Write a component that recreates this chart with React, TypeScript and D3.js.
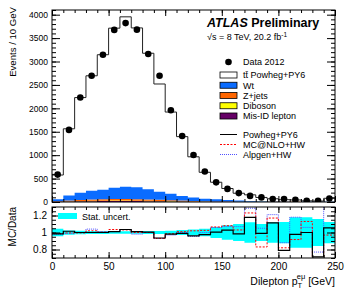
import * as d3 from "d3";
import React, { useEffect, useRef } from "react";

// bins of 10 GeV, lower edges
const binLow = [0, 10, 20, 30, 40, 50, 60, 70, 80, 90, 100, 110, 120, 130, 140, 150, 160, 170, 180, 190, 200, 210, 220, 230, 240];
const binWidth = 10;

const dataCounts = [585, 1540, 2230, 2695, 3145, 3675, 3820, 3680, 3160, 2695, 1960, 1410, 1005, 650, 420, 280, 190, 130, 98, 62, 62, 45, 25, 28, 75];
const ttbar = [516, 1423, 2030, 2455, 2885, 3407, 3629, 3402, 2906, 2300, 1746, 1266, 870, 562, 364, 246, 157, 131, 80, 56, 39, 36, 19, 15, 75];
const wt = [45, 108, 155, 185, 199, 240, 261, 254, 216, 173, 136, 99, 71, 54, 45, 32, 23, 16, 12, 9.5, 7, 5, 3.5, 3.5, 2.5];
const zjets = [8, 18, 25, 30, 33, 35, 34, 32, 28, 24, 20, 15, 11, 8, 6, 4, 3, 2, 2, 1.5, 1, 1, 1, 0.5, 0.5];
const diboson = [2, 4, 6, 8, 9, 10, 10, 10, 9, 8, 7, 6, 5, 4, 3, 3, 2, 2, 1.5, 1, 1, 1, 1, 0.5, 0.5];
const misId = [5, 10, 14, 17, 19, 20, 20, 19, 17, 15, 12, 10, 8, 6, 4, 3, 2, 2, 1.5, 1, 1, 1, 0.5, 0.5, 0.5];

// MC/Data for the alternative generators
const mcnloRatio = [0.99, 0.995, 0.995, 1.02, 1.005, 1.035, 1.03, 1.0, 1.0, 0.93, 0.985, 1.01, 1.02, 1.025, 1.065, 1.08, 1.03, 1.23, 0.83, 1.17, 0.82, 0.917, 1.13, 0.69, 0.97];
const alpgenRatio = [0.98, 0.99, 1.0, 1.04, 1.01, 1.01, 1.035, 0.98, 1.0, 0.93, 0.97, 1.0, 0.955, 1.0, 1.06, 1.07, 1.07, 1.286, 1.05, 1.21, 0.88, 1.18, 1.06, 0.77, 1.4];
// half width of the stat. uncertainty band
const statErr = [0.045, 0.025, 0.02, 0.018, 0.017, 0.016, 0.016, 0.016, 0.017, 0.018, 0.022, 0.03, 0.035, 0.045, 0.065, 0.085, 0.1, 0.12, 0.1, 0.12, 0.125, 0.18, 0.18, 0.16, 0.125];

const xMajor = [0, 50, 100, 150, 200, 250];
const yMajor = [0, 500, 1000, 1500, 2000, 2500, 3000, 3500, 4000];
const rMajor = [0.8, 1, 1.2];

const stackKeys = ["misId", "diboson", "zjets", "wt", "ttbar"];
const stackColors: Record<string, string> = {
  misId: "#660066",
  diboson: "#ffff00",
  zjets: "#ff6600",
  wt: "#0a6cff",
  ttbar: "#ffffff",
};

const legendBoxes = [
  { label: "t\u0074\u0304 Powheg+PY6", key: "ttbar" },
  { label: "Wt", key: "wt" },
  { label: "Z+jets", key: "zjets" },
  { label: "Diboson", key: "diboson" },
  { label: "Mis-ID lepton", key: "misId" },
];
const legendLines = [
  { label: "Powheg+PY6", color: "#000", dash: "" },
  { label: "MC@NLO+HW", color: "#ff0000", dash: "2,1.5" },
  { label: "Alpgen+HW", color: "#5050ff", dash: "1,1" },
];

const font = "'Liberation Sans', Arial, Helvetica, sans-serif";

const App: React.FC = () => {
  const svgRef = useRef<SVGSVGElement>(null);

  useEffect(() => {
    const svg = d3.select(svgRef.current);
    svg.selectAll("*").remove();
    svg.style("font-family", font);

    const left = 52, right = 335, top = 10, mainBottom = 202, ratioTop = 207, ratioBottom = 258;

    const x = d3.scaleLinear().domain([0, 250]).range([left, right]);
    const y = d3.scaleLinear().domain([0, 4100]).range([mainBottom, top]);
    const yr = d3.scaleLinear().domain([0.7, 1.3]).range([ratioBottom, ratioTop]);

    const table = binLow.map((_, i) => ({
      misId: misId[i], diboson: diboson[i], zjets: zjets[i], wt: wt[i], ttbar: ttbar[i],
    }));
    const series = d3.stack<any>().keys(stackKeys)(table);
    const total = table.map((d) => d.misId + d.diboson + d.zjets + d.wt + d.ttbar);
    const powhegRatio = total.map((t, i) => t / dataCounts[i]);

    const stepPts = (vals: number[]) =>
      vals.flatMap((v, i) => [[binLow[i], v], [binLow[i] + binWidth, v]]) as [number, number][];

    // clip paths
    const defs = svg.append("defs");
    defs.append("clipPath").attr("id", "clipMain")
      .append("rect").attr("x", left).attr("y", top).attr("width", right - left).attr("height", mainBottom - top);
    defs.append("clipPath").attr("id", "clipRatio")
      .append("rect").attr("x", left).attr("y", ratioTop).attr("width", right - left).attr("height", ratioBottom - ratioTop);

    // ---- main panel ----
    const main = svg.append("g").attr("clip-path", "url(#clipMain)");
    const area = d3.area<[number, number, number]>()
      .x((d) => x(d[0]))
      .y0((d) => y(d[1]))
      .y1((d) => y(d[2]));

    series.forEach((s) => {
      if (s.key === "ttbar") return;
      const pts = s.flatMap((d, i) => [
        [binLow[i], d[0], d[1]],
        [binLow[i] + binWidth, d[0], d[1]],
      ]) as [number, number, number][];
      main.append("path").attr("d", area(pts)).attr("fill", stackColors[s.key]).attr("stroke", "none");
    });

    const line = d3.line<[number, number]>().x((d) => x(d[0])).y((d) => y(d[1]));
    main.append("path")
      .attr("d", line([[0, 0], ...stepPts(total), [250, 0]]))
      .attr("fill", "none").attr("stroke", "#222").attr("stroke-width", 1);

    main.selectAll("circle.data")
      .data(dataCounts)
      .join("circle")
      .attr("class", "data")
      .attr("cx", (_, i) => x(binLow[i] + binWidth / 2))
      .attr("cy", (d) => y(d))
      .attr("r", 3.3)
      .attr("fill", "#000");

    // ---- ratio panel ----
    const ratio = svg.append("g").attr("clip-path", "url(#clipRatio)");
    const bandArea = d3.area<[number, number, number]>()
      .x((d) => x(d[0]))
      .y0((d) => yr(d[1]))
      .y1((d) => yr(d[2]));
    const bandPts = statErr.flatMap((e, i) => [
      [binLow[i], 1 - e, 1 + e],
      [binLow[i] + binWidth, 1 - e, 1 + e],
    ]) as [number, number, number][];
    ratio.append("path").attr("d", bandArea(bandPts)).attr("fill", "#00ffff");

    const rLine = d3.line<[number, number]>().x((d) => x(d[0])).y((d) => yr(d[1]));
    ratio.append("path").attr("d", rLine(stepPts(alpgenRatio)))
      .attr("fill", "none").attr("stroke", "#5050ff").attr("stroke-width", 1).attr("stroke-dasharray", "1,1");
    ratio.append("path").attr("d", rLine(stepPts(mcnloRatio)))
      .attr("fill", "none").attr("stroke", "#ff0000").attr("stroke-width", 1).attr("stroke-dasharray", "2,1.5");
    ratio.append("path").attr("d", rLine(stepPts(powhegRatio)))
      .attr("fill", "none").attr("stroke", "#000").attr("stroke-width", 1.2);

    // ---- frames and axes ----
    const styleAxis = (g: d3.Selection<SVGGElement, unknown, null, undefined>) => {
      g.select(".domain").remove();
      g.selectAll("line").attr("stroke", "#000").attr("stroke-width", 1);
    };
    const xMinor = x.ticks(25);
    const yMinor = y.ticks(41);
    const rMinor = yr.ticks(12);

    const addAxis = (
      axis: d3.Axis<d3.NumberValue>,
      tx: number,
      ty: number,
      withLabels: boolean,
      fontSize: number,
      fmt?: (d: d3.NumberValue) => string
    ) => {
      const g = svg.append("g").attr("transform", `translate(${tx},${ty})`);
      if (!withLabels) axis.tickFormat(() => "");
      else if (fmt) axis.tickFormat(fmt);
      g.call(axis);
      styleAxis(g);
      g.selectAll("text").attr("font-size", fontSize).attr("font-family", font).attr("fill", "#000");
      return g;
    };

    // main panel
    addAxis(d3.axisBottom(x).tickValues(xMinor).tickSize(-3), 0, mainBottom, false, 9);
    addAxis(d3.axisBottom(x).tickValues(xMajor).tickSize(-6), 0, mainBottom, false, 9);
    addAxis(d3.axisTop(x).tickValues(xMinor).tickSize(-3), 0, top, false, 9);
    addAxis(d3.axisTop(x).tickValues(xMajor).tickSize(-6), 0, top, false, 9);
    addAxis(d3.axisLeft(y).tickValues(yMinor).tickSize(-4), left, 0, false, 9);
    addAxis(d3.axisLeft(y).tickValues(yMajor).tickSize(-8).tickPadding(4), left, 0, true, 8.5, (d) => `${d}`);
    addAxis(d3.axisRight(y).tickValues(yMinor).tickSize(-4), right, 0, false, 9);
    addAxis(d3.axisRight(y).tickValues(yMajor).tickSize(-8), right, 0, false, 9);

    // ratio panel
    addAxis(d3.axisBottom(x).tickValues(xMinor).tickSize(-3), 0, ratioBottom, false, 10);
    addAxis(d3.axisBottom(x).tickValues(xMajor).tickSize(-6).tickPadding(5), 0, ratioBottom, true, 10, (d) => `${d}`);
    addAxis(d3.axisTop(x).tickValues(xMinor).tickSize(-3), 0, ratioTop, false, 10);
    addAxis(d3.axisTop(x).tickValues(xMajor).tickSize(-6), 0, ratioTop, false, 10);
    addAxis(d3.axisLeft(yr).tickValues(rMinor).tickSize(-4), left, 0, false, 10);
    addAxis(d3.axisLeft(yr).tickValues(rMajor).tickSize(-8).tickPadding(5), left, 0, true, 10, (d) => `${d}`);
    addAxis(d3.axisRight(yr).tickValues(rMinor).tickSize(-4), right, 0, false, 10);
    addAxis(d3.axisRight(yr).tickValues(rMajor).tickSize(-8), right, 0, false, 10);

    svg.append("rect").attr("x", left).attr("y", top).attr("width", right - left).attr("height", mainBottom - top)
      .attr("fill", "none").attr("stroke", "#000").attr("stroke-width", 1);
    svg.append("rect").attr("x", left).attr("y", ratioTop).attr("width", right - left).attr("height", ratioBottom - ratioTop)
      .attr("fill", "none").attr("stroke", "#000").attr("stroke-width", 1);

    // axis titles
    svg.append("text").attr("transform", "translate(16,7) rotate(-90)")
      .attr("text-anchor", "end").attr("font-size", 9.6).text("Events / 10 GeV");
    svg.append("text").attr("transform", `translate(16,${ratioTop}) rotate(-90)`)
      .attr("text-anchor", "end").attr("font-size", 10).text("MC/Data");

    const xt = svg.append("text").attr("x", right).attr("y", 285).attr("text-anchor", "end").attr("font-size", 10.5);
    xt.append("tspan").text("Dilepton p");
    xt.append("tspan").attr("dy", 3).attr("font-size", 7.5).text("T");
    xt.append("tspan").attr("dx", -4.6).attr("dy", -9).attr("font-size", 7.5).text("e\u03bc");
    xt.append("tspan").attr("dy", 6).text(" [GeV]");

    // ATLAS label
    const at = svg.append("text").attr("x", 207).attr("y", 27).attr("font-size", 12.5).attr("font-weight", "bold");
    at.append("tspan").attr("font-style", "italic").text("ATLAS");
    at.append("tspan").text(" Preliminary");

    const en = svg.append("text").attr("x", 207).attr("y", 40).attr("font-size", 9);
    en.append("tspan").text("\u221as = 8 TeV, 20.2 fb");
    en.append("tspan").attr("dy", -3.5).attr("font-size", 6.5).text("-1");

    // legend
    const lg = svg.append("g");
    lg.append("circle").attr("cx", 228.5).attr("cy", 62).attr("r", 3.3).attr("fill", "#000");
    lg.append("text").attr("x", 243).attr("y", 65.3).attr("font-size", 9).text("Data 2012");
    legendBoxes.forEach((b, i) => {
      const cy = 75 + 10.25 * i;
      lg.append("rect").attr("x", 220).attr("y", cy - 3).attr("width", 17).attr("height", 6)
        .attr("fill", stackColors[b.key]).attr("stroke", "#000").attr("stroke-width", 0.8);
      lg.append("text").attr("x", 243).attr("y", cy + 3.3).attr("font-size", 9).text(b.label);
    });
    legendLines.forEach((l, i) => {
      const cy = 134.5 + 10 * i;
      lg.append("line").attr("x1", 220).attr("x2", 237).attr("y1", cy).attr("y2", cy)
        .attr("stroke", l.color).attr("stroke-width", 1).attr("stroke-dasharray", l.dash || null);
      lg.append("text").attr("x", 243).attr("y", cy + 3.3).attr("font-size", 9).text(l.label);
    });

    svg.append("rect").attr("x", 58).attr("y", 213).attr("width", 19).attr("height", 6).attr("fill", "#00ffff");
    svg.append("text").attr("x", 82).attr("y", 219.5).attr("font-size", 9).text("Stat. uncert.");
  }, []);

  return (
    <svg
      ref={svgRef}
      width={349}
      height={297}
      style={{ position: "absolute", left: 0, top: 0, background: "#fff" }}
    />
  );
};

export default App;
